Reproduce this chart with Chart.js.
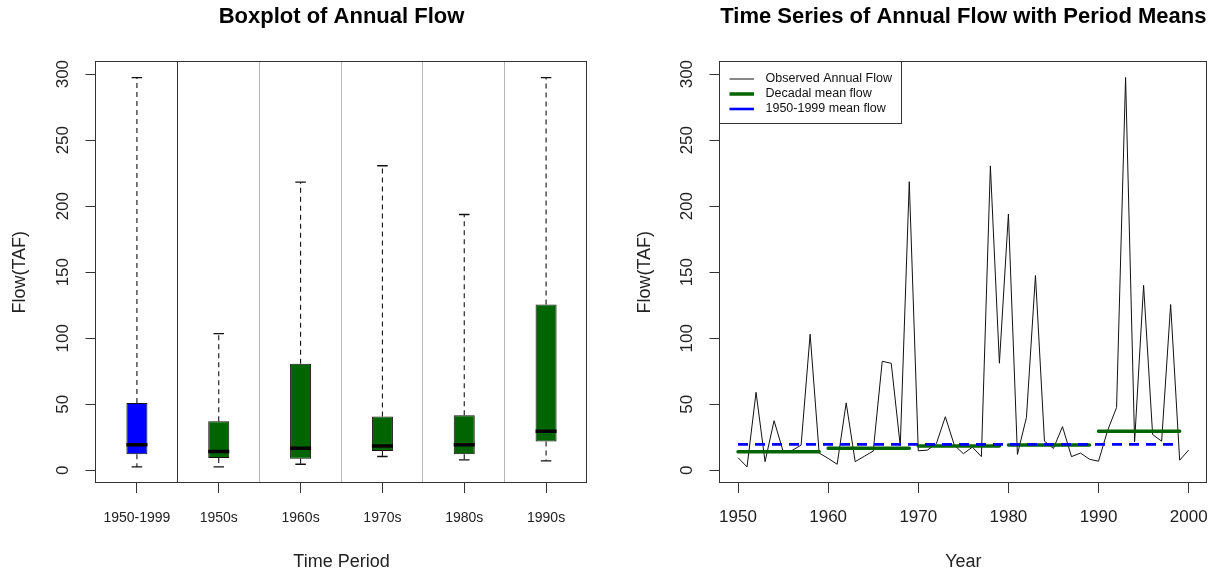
<!DOCTYPE html>
<html><head><meta charset="utf-8">
<script src="https://cdn.jsdelivr.net/npm/chart.js@4.4.1/dist/chart.umd.min.js"></script>
<style>
html,body{margin:0;padding:0;background:#fff;width:1212px;height:571px;overflow:hidden}
#c1{position:absolute;left:0;top:0}
#c2{position:absolute;left:606px;top:0}
</style></head><body>
<canvas id="c1" width="606" height="571"></canvas>
<canvas id="c2" width="606" height="571"></canvas>
<script>
// ---------- Boxplot data ----------
const periods = ['1950-1999', '1950s', '1960s', '1970s', '1980s', '1990s'];
const boxMin    = [2.5, 2.5, 4.5, 10.4, 7.8, 7.1];
const boxQ1     = [12.1, 9.3, 8.6, 14.6, 12.1, 21.7];
const boxMedian = [19.2, 14.1, 16.7, 18.4, 19.2, 29.5];
const boxQ3     = [51.0, 37.1, 80.6, 40.7, 41.7, 125.5];
const boxMax    = [297.4, 103.5, 218.2, 230.6, 193.7, 297.4];
const boxColors = ['#0000FF', '#006400', '#006400', '#006400', '#006400', '#006400'];

// ---------- Time series data ----------
const years = [1950, 1951, 1952, 1953, 1954, 1955, 1956, 1957, 1958, 1959,
               1960, 1961, 1962, 1963, 1964, 1965, 1966, 1967, 1968, 1969,
               1970, 1971, 1972, 1973, 1974, 1975, 1976, 1977, 1978, 1979,
               1980, 1981, 1982, 1983, 1984, 1985, 1986, 1987, 1988, 1989,
               1990, 1991, 1992, 1993, 1994, 1995, 1996, 1997, 1998, 1999, 2000];
const flow  = [9.5, 2.5, 59, 6.5, 37.5, 14.5, 15, 19, 103, 13,
               9, 4.5, 51, 6.5, 10.5, 14.5, 82.5, 81, 18.5, 218.5,
               14.7, 15.2, 20, 40.5, 19, 12.5, 17.5, 10.3, 230.5, 81,
               194, 12, 40, 147.5, 22, 16.5, 33, 10.3, 13, 8.3,
               6.8, 30, 47.5, 297.5, 21.5, 140, 27, 22, 125.5, 7.6, 15.3];
const decadeStart = [1950, 1960, 1970, 1980, 1990];
const decadeEnd   = [1959, 1969, 1979, 1989, 1999];
const decadeMean  = [13.9, 16.6, 18.4, 19.1, 29.5];
const overallStart = 1950, overallEnd = 1999, overallMean = 19.6;

const yTicks = [0, 50, 100, 150, 200, 250, 300];
const yearTicks = [1950, 1960, 1970, 1980, 1990, 2000];
const yMin = -9.3, yMax = 309.2;

Chart.defaults.font.family = '"Liberation Sans", Arial, sans-serif';
Chart.defaults.color = '#222';

const framePlugin = {
  id: 'frame',
  afterDatasetsDraw(chart) {
    const {ctx, chartArea: a} = chart;
    ctx.save();
    ctx.strokeStyle = '#333';
    ctx.lineWidth = 1;
    ctx.setLineDash([]);
    const l = Math.round(a.left) - 0.5, t = Math.round(a.top) - 0.5;
    ctx.strokeRect(l, t, Math.round(a.right) - Math.round(a.left), Math.round(a.bottom) - Math.round(a.top));
    ctx.restore();
  }
};

const sepPlugin = {
  id: 'sep',
  beforeDatasetsDraw(chart) {
    const {ctx, chartArea: a} = chart;
    const xs = chart.scales.x;
    ctx.save();
    ctx.lineWidth = 1;
    for (let i = 0; i < periods.length - 1; i++) {
      const px = Math.round((xs.getPixelForValue(i) + xs.getPixelForValue(i + 1)) / 2) - 0.5;
      ctx.strokeStyle = i === 0 ? '#333' : '#b8b8b8';
      ctx.beginPath();
      ctx.moveTo(px, a.top);
      ctx.lineTo(px, a.bottom);
      ctx.stroke();
    }
    ctx.restore();
  }
};

const legendPlugin = {
  id: 'boxLegend',
  afterDraw(chart) {
    const {ctx, chartArea: a} = chart;
    const L = Math.round(a.left) - 0.5, T = Math.round(a.top) - 0.5;
    ctx.save();
    ctx.strokeStyle = '#333';
    ctx.lineWidth = 1;
    ctx.setLineDash([]);
    ctx.strokeRect(L, T, 182, 62);
    chart.data.datasets.forEach((ds, k) => {
      const y = T + 17.5 + k * 15;
      ctx.beginPath();
      ctx.strokeStyle = ds.borderColor;
      ctx.lineWidth = ds.borderWidth;
      ctx.moveTo(L + 10, y);
      ctx.lineTo(L + 34.5, y);
      ctx.stroke();
      ctx.fillStyle = '#111';
      ctx.font = '12.5px "Liberation Sans", Arial, sans-serif';
      ctx.textBaseline = 'middle';
      ctx.textAlign = 'left';
      ctx.fillText(ds.label, L + 46, y);
    });
    ctx.restore();
  }
};

function yScale(axisWidth, titlePadTop) {
  return {
    type: 'linear', min: yMin, max: yMax,
    afterBuildTicks: s => { s.ticks = yTicks.map(v => ({value: v})); },
    ticks: { minRotation: 90, maxRotation: 90, crossAlign: 'center', padding: 8, autoSkip: false,
             font: {size: 17}, color: '#222' },
    grid: { drawOnChartArea: false, drawTicks: true, tickLength: 10.5, color: '#333' },
    border: { display: false },
    title: { display: true, text: 'Flow(TAF)', font: {size: 18}, color: '#222', padding: {top: titlePadTop, bottom: 0} },
    afterFit: s => { s.width = axisWidth; s.paddingTop = 0; s.paddingBottom = 0; }
  };
}

// ---------- Left: boxplot ----------
const whiskerPts = [];
periods.forEach((p, i) => {
  whiskerPts.push({x: p, y: boxQ3[i]}, {x: p, y: boxMax[i]}, {x: p, y: null},
                  {x: p, y: boxQ1[i]}, {x: p, y: boxMin[i]}, {x: p, y: null});
});

new Chart(document.getElementById('c1'), {
  type: 'bar',
  data: {
    labels: periods,
    datasets: [
      { type: 'bar', label: 'IQR', data: periods.map((p, i) => [boxQ1[i], boxQ3[i]]),
        backgroundColor: boxColors, borderColor: '#111', borderWidth: 1, borderSkipped: false,
        barPercentage: 0.257, categoryPercentage: 1, order: 4 },
      { type: 'line', label: 'whiskers', data: whiskerPts, borderColor: '#111', borderWidth: 1.1,
        borderDash: [5, 4], pointRadius: 0, spanGaps: false, order: 3 },
      { type: 'line', label: 'max', data: boxMax, showLine: false, pointStyle: 'line',
        pointRadius: 5.25, pointBorderWidth: 1.4, pointBorderColor: '#111', order: 2 },
      { type: 'line', label: 'min', data: boxMin, showLine: false, pointStyle: 'line',
        pointRadius: 5.25, pointBorderWidth: 1.4, pointBorderColor: '#111', order: 2 },
      { type: 'line', label: 'median', data: boxMedian, showLine: false, pointStyle: 'line',
        pointRadius: 10.5, pointBorderWidth: 3.5, pointBorderColor: '#000', order: 1 }
    ]
  },
  options: {
    responsive: false, animation: false, devicePixelRatio: 1, events: [],
    layout: { padding: {left: 0, top: 0, right: 19, bottom: 0} },
    plugins: {
      legend: { display: false }, tooltip: { enabled: false },
      title: { display: true, text: 'Boxplot of Annual Flow', fullSize: false, color: '#000',
               font: {size: 22, weight: 'bold'}, padding: {top: 4, bottom: 31.6} }
    },
    scales: {
      x: { type: 'category', offset: true,
           grid: { offset: false, drawOnChartArea: false, drawTicks: true, tickLength: 10.5, color: '#333' },
           border: { display: false },
           ticks: { padding: 17, font: {size: 14}, color: '#222', maxRotation: 0, autoSkip: false },
           title: { display: true, text: 'Time Period', font: {size: 18, lineHeight: 1.05}, color: '#222', padding: {top: 0, bottom: 0} },
           afterFit: s => { s.height = 88.5; s.paddingLeft = 0; s.paddingRight = 0; } },
      y: yScale(96, 9.2)
    }
  },
  plugins: [sepPlugin, framePlugin]
});

// ---------- Right: time series ----------
const decadalPts = [];
decadeStart.forEach((s, i) => {
  decadalPts.push({x: s, y: decadeMean[i]}, {x: decadeEnd[i], y: decadeMean[i]}, {x: decadeEnd[i], y: null});
});

new Chart(document.getElementById('c2'), {
  type: 'line',
  data: {
    datasets: [
      { label: 'Observed Annual Flow', data: years.map((yr, i) => ({x: yr, y: flow[i]})),
        borderColor: '#111', borderWidth: 1, pointRadius: 0, tension: 0, order: 3 },
      { label: 'Decadal mean flow', data: decadalPts, borderColor: '#006400', borderWidth: 3.5,
        borderCapStyle: 'round', pointRadius: 0, spanGaps: false, order: 2 },
      { label: '1950-1999 mean flow', data: [{x: overallStart, y: overallMean}, {x: overallEnd, y: overallMean}],
        borderColor: '#0000FF', borderWidth: 2.6, borderDash: [10, 7], pointRadius: 0, order: 1 }
    ]
  },
  options: {
    responsive: false, animation: false, devicePixelRatio: 1, events: [],
    layout: { padding: {left: 0, top: 0, right: 5.3, bottom: 0} },
    plugins: {
      legend: { display: false }, tooltip: { enabled: false },
      title: { display: true, text: 'Time Series of Annual Flow with Period Means', fullSize: false, color: '#000',
               font: {size: 22, weight: 'bold'}, padding: {top: 4, bottom: 31.6} }
    },
    scales: {
      x: { type: 'linear', min: 1948, max: 2002,
           afterBuildTicks: s => { s.ticks = yearTicks.map(v => ({value: v})); },
           grid: { drawOnChartArea: false, drawTicks: true, tickLength: 10.5, color: '#333' },
           border: { display: false },
           ticks: { padding: 14.5, font: {size: 17}, color: '#222', maxRotation: 0, autoSkip: false,
                    callback: v => String(v) },
           title: { display: true, text: 'Year', font: {size: 18, lineHeight: 1.05}, color: '#222', padding: {top: 0, bottom: 0} },
           afterFit: s => { s.height = 88.5; s.paddingLeft = 0; s.paddingRight = 0; } },
      y: yScale(114, 28.2)
    }
  },
  plugins: [framePlugin, legendPlugin]
});
</script>
</body></html>
